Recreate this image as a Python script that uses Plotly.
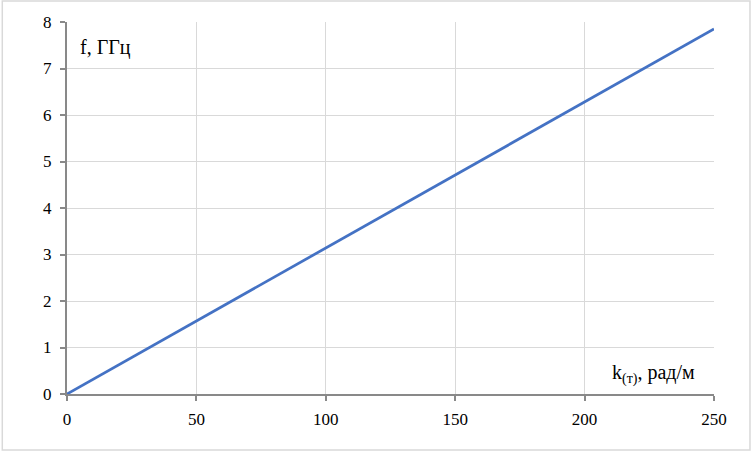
import plotly.graph_objects as go

k_values = [0, 50, 100, 150, 200, 250]
f_values = [0, 1.57, 3.14, 4.71, 6.28, 7.85]
x_ticks = [0, 50, 100, 150, 200, 250]
y_ticks = [0, 1, 2, 3, 4, 5, 6, 7, 8]

FONT = "Liberation Serif"

fig = go.Figure()
fig.add_trace(go.Scatter(x=k_values, y=f_values, mode="lines",
                         line=dict(color="#4472C4", width=2.75),
                         showlegend=False, hoverinfo="skip"))

axis_common = dict(showgrid=True, gridcolor="#D9D9D9", gridwidth=1,
                   showline=True, linecolor="#898989", linewidth=2,
                   ticks="outside", ticklen=5, tickwidth=2, tickcolor="#898989",
                   zeroline=False, tickfont=dict(family=FONT, size=17, color="#000000"))

fig.update_xaxes(range=[0, 250], tickvals=x_ticks, ticklabelstandoff=4, **axis_common)
fig.update_yaxes(range=[0, 8], tickvals=y_ticks, ticklabelstandoff=5, **axis_common)

fig.update_layout(
    width=752, height=452,
    margin=dict(l=67, r=38, t=22, b=58),
    paper_bgcolor="white", plot_bgcolor="white",
    font=dict(family=FONT, size=17, color="#000000"),
    annotations=[
        dict(text="f, ГГц", xref="paper", yref="paper", x=0.017, y=0.932,
             xanchor="left", yanchor="middle", showarrow=False,
             font=dict(family=FONT, size=20, color="#000000")),
        dict(text="k<sub>(т)</sub>, рад/м", xref="paper", yref="paper", x=0.974, y=0.055,
             xanchor="right", yanchor="middle", showarrow=False,
             font=dict(family=FONT, size=20, color="#000000")),
    ],
    shapes=[dict(type="rect", xref="paper", yref="paper",
                 x0=-0.1, x1=1.0556, y0=-0.1505, y1=1.0565,
                 line=dict(color="#D9D9D9", width=1.5), layer="below")],
)

fig.write_html("out.html", config={"displayModeBar": False},
               post_script="document.body.style.margin='0';")
